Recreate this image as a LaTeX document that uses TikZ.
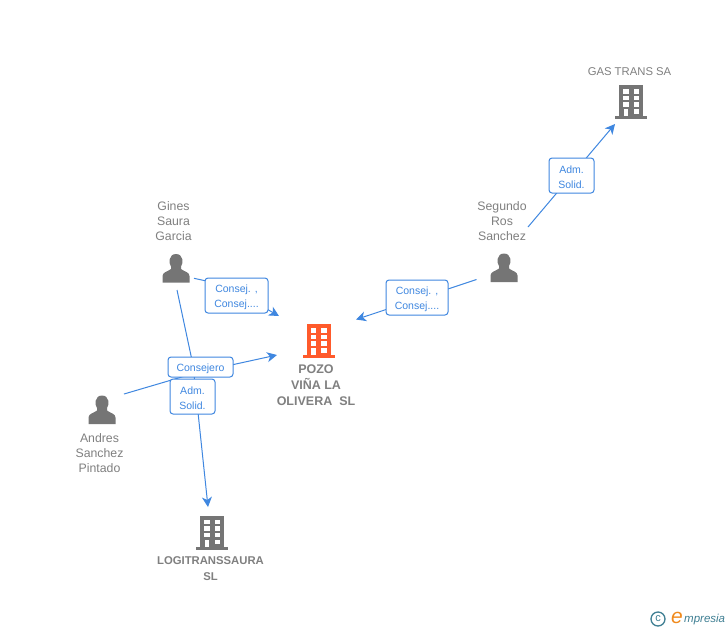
\documentclass[tikz,border=0pt]{standalone}
\usepackage{fontspec}
\setmainfont{Liberation Sans}
\usetikzlibrary{arrows.meta,positioning}
\definecolor{iconGray}{HTML}{757575}
\definecolor{textGray}{HTML}{808080}
\definecolor{linkBlue}{HTML}{3F87E0}
\definecolor{pozoOrange}{HTML}{FF5A2B}
\definecolor{logoTeal}{HTML}{3F7F93}
\definecolor{logoOrange}{HTML}{F08A1D}
\newcommand{\tagtop}{\rule{0pt}{10.8pt}}
\tikzset{
  hub/.style={inner sep=0pt,minimum size=2pt,shape=coordinate},
  caption/.style={align=center,text=textGray,font=\fontsize{12.3}{15}\selectfont,inner sep=0pt},
  boldcaption/.style={align=center,text=textGray,font=\fontsize{12.5}{16}\bfseries\selectfont,inner sep=0pt},
  smallcaption/.style={align=center,text=textGray,font=\fontsize{11.3}{15}\selectfont,inner sep=0pt},
  tag/.style={draw=linkBlue,line width=1pt,rounded corners=3pt,fill=white,align=center,text=linkBlue,
    font=\fontsize{10.5}{15}\selectfont,inner sep=0pt},
  link/.style={draw=linkBlue,line width=1pt,-{Stealth[length=10pt,width=10pt,inset=3pt]}},
  pics/person/.style={code={
    \fill[iconGray] (-13.5,14) -- (-13.5,7.5) .. controls (-13.5,3.5) and (-8,3) .. (-5,0.5)
      -- (-5,-2) .. controls (-7.5,-5) and (-7.5,-14.5) .. (0,-14.5)
      .. controls (7.5,-14.5) and (7.5,-5) .. (5,-2) -- (5,0.5)
      .. controls (8,3) and (13.5,3.5) .. (13.5,7.5) -- (13.5,14) -- cycle;
  }},
  pics/tower/.style={code={
    \fill[#1] (-16,14) rectangle (16,17);
    \fill[#1] (-12,-17) rectangle (12,15);
    \foreach \wx in {-8,2.5}{
      \foreach \wy in {-13,-6.5,0}{
        \fill[white] (\wx,\wy) rectangle ++(5.5,4.5);
      }
    }
    \fill[white] (-7.5,7) rectangle ++(4.5,7);
    \fill[white] (2.5,7) rectangle ++(5.5,4.5);
  }},
}
\begin{document}
\begin{tikzpicture}[x=1pt,y=-1pt]
\useasboundingbox (0,0) rectangle (728,630);
\fill[white] (0,0) rectangle (728,630);

% connector ends and bends
\node[hub] (ginesE) at (194,278.3) {};
\node[hub] (ginesS) at (177,290) {};
\node[hub] (andres) at (124,394) {};
\node[hub] (segundoW) at (476.5,279.5) {};
\node[hub] (segundoN) at (528,227) {};
\node[hub] (pozoNW) at (279,316) {};
\node[hub] (pozoW) at (277,355) {};
\node[hub] (pozoNE) at (356,319.5) {};
\node[hub] (gas) at (615,124) {};
\node[hub] (logi) at (208,507) {};
\node[hub] (bendGines) at (224.6,285) {};
\node[hub] (bendLogi) at (193,365) {};
\node[hub] (bendAndres) at (197,372.5) {};

% connectors
\draw[link] (ginesE) -- (bendGines) -- (pozoNW);
\draw[link] (ginesS) -- (bendLogi) -- (logi);
\draw[link] (andres) -- (bendAndres) -- (pozoW);
\draw[link] (segundoW) -- (pozoNE);
\draw[link] (segundoN) -- (gas);

% icons
\pic at (176,268.5) {person};
\pic at (504,268) {person};
\pic at (102,410) {person};
\pic at (631,102) {tower=iconGray};
\pic at (212,532.5) {tower=iconGray};
\pic at (318.5,341) {tower=pozoOrange};

% captions
\node[smallcaption] (capGas) at (629.5,71.5) {GAS TRANS SA};
\node[caption] (capGines) at (173.5,221) {Gines\\Saura\\Garcia};
\node[caption] (capSegundo) at (502,221) {Segundo\\Ros\\Sanchez};
\node[caption] (capAndres) at (99.5,453) {Andres\\Sanchez\\Pintado};
\node[boldcaption] (capPozo) at (316,385) {POZO\\VIÑA LA\\OLIVERA\ \ SL};
\node[smallcaption,font=\fontsize{11.3}{15.5}\bfseries\selectfont] (capLogi) at (210.5,568.5) {LOGITRANSSAURA\\SL};

% connector tags
\node[tag,minimum width=63pt,minimum height=35pt] (tagGines) at (236.5,295.5) {\tagtop Consej. ,\\Consej....};
\node[tag,minimum width=62pt,minimum height=35pt] (tagSegundo) at (417,297.5) {\tagtop Consej. ,\\Consej....};
\node[tag,minimum width=45pt,minimum height=35pt] (tagGas) at (571.5,175.5) {\tagtop Adm.\\Solid.};
\node[tag,minimum width=65pt,minimum height=20pt] (tagAndres) at (200.5,367) {\tagtop Consejero};
\node[tag,minimum width=45pt,minimum height=35pt] (tagLogi) at (192.5,396.5) {\tagtop Adm.\\Solid.};

% logo
\node[draw=logoTeal,line width=1.3pt,circle,minimum size=14pt,inner sep=0pt,text=logoTeal,font=\fontsize{11}{11}\selectfont] (logoC) at (658,619) {\raisebox{1pt}{c}};
\node[inner sep=0pt,text=logoOrange,font=\fontsize{21}{21}\itshape\selectfont] (logoE) at (677,617.5) {e};
\node[inner sep=0pt,anchor=west,text=logoTeal,font=\fontsize{11.5}{12}\itshape\selectfont] (logoT) at (684,619.5) {mpresia};
\end{tikzpicture}
\end{document}
